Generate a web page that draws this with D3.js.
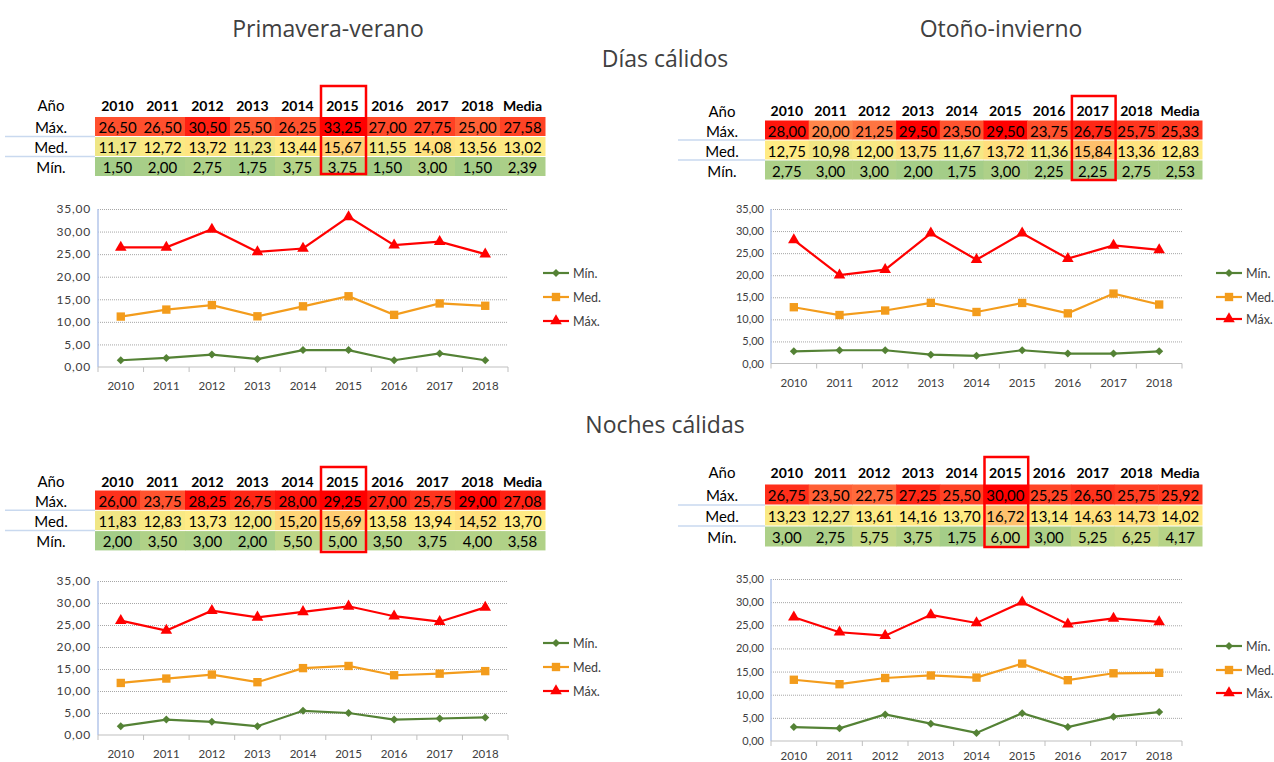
<!DOCTYPE html>
<html>
<head>
<meta charset="utf-8">
<script src="https://cdn.jsdelivr.net/npm/d3@7"></script>
<style>
  body { margin: 0; background: #fff; }
  svg { display: block; }
</style>
</head>
<body>
<svg id="chart" width="1274" height="762"></svg>
<script>
// ---- data ----
const years = [2010, 2011, 2012, 2013, 2014, 2015, 2016, 2017, 2018];
const rowLabels = ["Máx.", "Med.", "Mín."];
const yTicks = [0, 5, 10, 15, 20, 25, 30, 35];

// Primavera-verano, días cálidos
const pvDiasMax = [26.50, 26.50, 30.50, 25.50, 26.25, 33.25, 27.00, 27.75, 25.00];
const pvDiasMed = [11.17, 12.72, 13.72, 11.23, 13.44, 15.67, 11.55, 14.08, 13.56];
const pvDiasMin = [1.50, 2.00, 2.75, 1.75, 3.75, 3.75, 1.50, 3.00, 1.50];
const pvDiasMedia = [27.58, 13.02, 2.39];

// Otoño-invierno, días cálidos
const oiDiasMax = [28.00, 20.00, 21.25, 29.50, 23.50, 29.50, 23.75, 26.75, 25.75];
const oiDiasMed = [12.75, 10.98, 12.00, 13.75, 11.67, 13.72, 11.36, 15.84, 13.36];
const oiDiasMin = [2.75, 3.00, 3.00, 2.00, 1.75, 3.00, 2.25, 2.25, 2.75];
const oiDiasMedia = [25.33, 12.83, 2.53];

// Primavera-verano, noches cálidas
const pvNochesMax = [26.00, 23.75, 28.25, 26.75, 28.00, 29.25, 27.00, 25.75, 29.00];
const pvNochesMed = [11.83, 12.83, 13.73, 12.00, 15.20, 15.69, 13.58, 13.94, 14.52];
const pvNochesMin = [2.00, 3.50, 3.00, 2.00, 5.50, 5.00, 3.50, 3.75, 4.00];
const pvNochesMedia = [27.08, 13.70, 3.58];

// Otoño-invierno, noches cálidas
const oiNochesMax = [26.75, 23.50, 22.75, 27.25, 25.50, 30.00, 25.25, 26.50, 25.75];
const oiNochesMed = [13.23, 12.27, 13.61, 14.16, 13.70, 16.72, 13.14, 14.63, 14.73];
const oiNochesMin = [3.00, 2.75, 5.75, 3.75, 1.75, 6.00, 3.00, 5.25, 6.25];
const oiNochesMedia = [25.92, 14.02, 4.17];

// year highlighted with the red box in each table
const highlightYears = [2015, 2017, 2015, 2015];

const svg = d3.select("#chart");
const fmt = d => d.toFixed(2).replace(".", ",");
const textColor = "#404040";
const series = [
  {name: "Mín.", color: "#548235", shape: "diamond"},
  {name: "Med.", color: "#F39C1C", shape: "square"},
  {name: "Máx.", color: "#FF0000", shape: "triangle"}
];

// panel layout
const panels = [
  {rows: [pvDiasMax, pvDiasMed, pvDiasMin], media: pvDiasMedia, hi: highlightYears[0],
   table: {labelX: 51, x0: 95, w: 45, headerY: 105, top: 117, pitch: 20, boxY0: 86, boxY1: 174, sepX0: 5},
   chart: {x0: 98, x1: 508, yTop: 209, yBot: 367, xLabelY: 385, yFont: 12, ySpacing: 0.8, legX: 543, legY: [273, 297, 321]}},
  {rows: [oiDiasMax, oiDiasMed, oiDiasMin], media: oiDiasMedia, hi: highlightYears[1],
   table: {labelX: 722, x0: 765, w: 43.7, headerY: 110.5, top: 120.5, pitch: 20, boxY0: 96, boxY1: 180, sepX0: 678},
   chart: {x0: 771, x1: 1182, yTop: 209, yBot: 363.5, xLabelY: 382, yFont: 11, ySpacing: 0, legX: 1216, legY: [273, 297, 319]}},
  {rows: [pvNochesMax, pvNochesMed, pvNochesMin], media: pvNochesMedia, hi: highlightYears[2],
   table: {labelX: 51, x0: 95, w: 45, headerY: 481, top: 490.5, pitch: 20.3, boxY0: 467, boxY1: 552, sepX0: 5},
   chart: {x0: 98, x1: 508, yTop: 581, yBot: 735, xLabelY: 753, yFont: 12, ySpacing: 0.8, legX: 543, legY: [643, 667, 691]}},
  {rows: [oiNochesMax, oiNochesMed, oiNochesMin], media: oiNochesMedia, hi: highlightYears[3],
   table: {labelX: 722, x0: 765, w: 43.7, headerY: 472, top: 484.5, pitch: 21, boxY0: 457, boxY1: 547, sepX0: 678},
   chart: {x0: 771, x1: 1182, yTop: 579, yBot: 741, xLabelY: 755, yFont: 11, ySpacing: 0, legX: 1216, legY: [646, 670, 693]}}
];

// titles
const titles = [
  {text: "Primavera-verano", x: 328, y: 28},
  {text: "Otoño-invierno", x: 1001, y: 28},
  {text: "Días cálidos", x: 665, y: 58},
  {text: "Noches cálidas", x: 665, y: 424}
];
svg.selectAll("text.title")
  .data(titles)
  .enter()
  .append("text")
  .attr("class", "title")
  .attr("x", d => d.x)
  .attr("y", d => d.y)
  .attr("text-anchor", "middle")
  .attr("dominant-baseline", "central")
  .style("font-family", "'Open Sans', sans-serif")
  .style("font-size", "23px")
  .style("fill", textColor)
  .text(d => d.text);

panels.forEach(p => {
  drawTable(p);
  drawChart(p);
});

function drawTable(p) {
  const t = p.table;
  const g = svg.append("g");
  const all = p.rows.flat().concat(p.media);
  const color = d3.scaleLinear()
    .domain([d3.min(all), d3.median(all), d3.max(all)])
    .range(["#A4CD88", "#FFEB84", "#FF0000"]);
  const cols = years.map(String).concat(["Media"]);
  const font = "Lato, 'Noto Sans', sans-serif";

  // header
  g.append("text")
    .attr("x", t.labelX).attr("y", t.headerY)
    .attr("text-anchor", "middle").attr("dominant-baseline", "central")
    .style("font-family", font).style("font-size", "15px")
    .text("Año");
  g.selectAll("text.head")
    .data(cols)
    .enter()
    .append("text")
    .attr("x", (d, i) => t.x0 + t.w * (i + 0.5))
    .attr("y", t.headerY)
    .attr("text-anchor", "middle").attr("dominant-baseline", "central")
    .style("font-family", font).style("font-size", "14px").style("font-weight", "bold")
    .text(d => d);

  // rows
  p.rows.forEach((vals, r) => {
    const y = t.top + r * t.pitch;
    const cells = vals.concat([p.media[r]]);
    g.selectAll(null)
      .data(cells)
      .enter()
      .append("rect")
      .attr("x", (d, i) => t.x0 + t.w * i)
      .attr("y", y)
      .attr("width", t.w + 0.5)
      .attr("height", t.pitch - 1)
      .attr("fill", d => color(d));
    g.selectAll(null)
      .data(cells)
      .enter()
      .append("text")
      .attr("x", (d, i) => t.x0 + t.w * (i + 0.5))
      .attr("y", y + (t.pitch - 1) / 2 + 0.5)
      .attr("text-anchor", "middle").attr("dominant-baseline", "central")
      .style("font-family", font).style("font-size", "15px")
      .text(d => fmt(d));
    g.append("text")
      .attr("x", t.labelX).attr("y", y + (t.pitch - 1) / 2 + 0.5)
      .attr("text-anchor", "middle").attr("dominant-baseline", "central")
      .style("font-family", font).style("font-size", "15px")
      .text(rowLabels[r]);
    if (r > 0) {
      g.append("line")
        .attr("x1", t.sepX0).attr("x2", t.x0)
        .attr("y1", y - 0.5).attr("y2", y - 0.5)
        .attr("stroke", "#C9D9EF").attr("stroke-width", 1.5);
    }
  });

  // red box around highlighted year
  const hi = years.indexOf(p.hi);
  g.append("rect")
    .attr("x", t.x0 + t.w * hi + 1)
    .attr("y", t.boxY0)
    .attr("width", t.w)
    .attr("height", t.boxY1 - t.boxY0)
    .attr("fill", "none")
    .attr("stroke", "#FF0000")
    .attr("stroke-width", 2.5);
}

function markerPath(shape) {
  if (shape === "diamond") return d3.symbol(d3.symbolSquare, 32)();
  if (shape === "square") return d3.symbol(d3.symbolSquare, 70)();
  return d3.symbol(d3.symbolTriangle, 58)();
}

function drawChart(p) {
  const c = p.chart;
  const g = svg.append("g");
  const x = d3.scaleBand().domain(years).range([c.x0, c.x1]).padding(0);
  const y = d3.scaleLinear().domain([0, 35]).range([c.yBot, c.yTop]);
  const font = "Lato, 'Noto Sans', sans-serif";

  // gridlines
  g.append("g")
    .attr("transform", `translate(${c.x0},0)`)
    .call(d3.axisLeft(y).tickValues(yTicks.filter(v => v > 0)).tickSize(-(c.x1 - c.x0)).tickFormat(""))
    .call(a => a.select(".domain").remove())
    .call(a => a.selectAll("line").attr("stroke", "#A6A6A6").attr("stroke-dasharray", "1,1"));

  // y labels
  g.append("g")
    .attr("transform", `translate(${c.x0 - 4},0)`)
    .call(d3.axisLeft(y).tickValues(yTicks).tickSize(0).tickFormat(fmt))
    .call(a => a.select(".domain").remove())
    .call(a => a.selectAll("text")
      .style("font-family", font).style("font-size", c.yFont + "px")
      .style("letter-spacing", c.ySpacing + "px")
      .attr("fill", textColor));

  // y axis line
  g.append("line")
    .attr("x1", c.x0).attr("x2", c.x0)
    .attr("y1", c.yTop).attr("y2", c.yBot)
    .attr("stroke", "#B4C6EA").attr("stroke-width", 1.5);

  // x axis line and ticks between categories
  g.append("line")
    .attr("x1", c.x0).attr("x2", c.x1)
    .attr("y1", c.yBot).attr("y2", c.yBot)
    .attr("stroke", "#BFBFBF").attr("stroke-width", 1);
  const edges = years.map(v => x(v)).concat([c.x1]);
  g.selectAll("line.tick")
    .data(edges)
    .enter()
    .append("line")
    .attr("x1", d => d).attr("x2", d => d)
    .attr("y1", c.yBot).attr("y2", c.yBot + 5)
    .attr("stroke", "#BFBFBF");
  g.selectAll("text.xl")
    .data(years)
    .enter()
    .append("text")
    .attr("x", d => x(d) + x.bandwidth() / 2)
    .attr("y", c.xLabelY)
    .attr("text-anchor", "middle").attr("dominant-baseline", "central")
    .style("font-family", font).style("font-size", "11.5px")
    .attr("fill", textColor)
    .text(d => d);

  // series lines, drawn Mín, Med, Máx
  const order = [2, 1, 0];
  const line = d3.line()
    .x((d, i) => x(years[i]) + x.bandwidth() / 2)
    .y(d => y(d));
  order.forEach((r, k) => {
    const s = series[k];
    const vals = p.rows[r];
    g.append("path")
      .datum(vals)
      .attr("d", line)
      .attr("fill", "none")
      .attr("stroke", s.color)
      .attr("stroke-width", 2.2);
    g.selectAll(null)
      .data(vals)
      .enter()
      .append("path")
      .attr("d", markerPath(s.shape))
      .attr("transform", (d, i) => `translate(${x(years[i]) + x.bandwidth() / 2},${y(d)})` + (s.shape === "diamond" ? " rotate(45)" : ""))
      .attr("fill", s.color);
  });

  // legend
  series.forEach((s, k) => {
    const ly = c.legY[k];
    g.append("line")
      .attr("x1", c.legX).attr("x2", c.legX + 26)
      .attr("y1", ly).attr("y2", ly)
      .attr("stroke", s.color).attr("stroke-width", 2.2);
    g.append("path")
      .attr("d", markerPath(s.shape))
      .attr("transform", `translate(${c.legX + 13},${ly})` + (s.shape === "diamond" ? " rotate(45)" : ""))
      .attr("fill", s.color);
    g.append("text")
      .attr("x", c.legX + 30)
      .attr("y", ly)
      .attr("dominant-baseline", "central")
      .style("font-family", font).style("font-size", "12.5px")
      .attr("fill", textColor)
      .text(s.name);
  });
}
</script>
</body>
</html>
